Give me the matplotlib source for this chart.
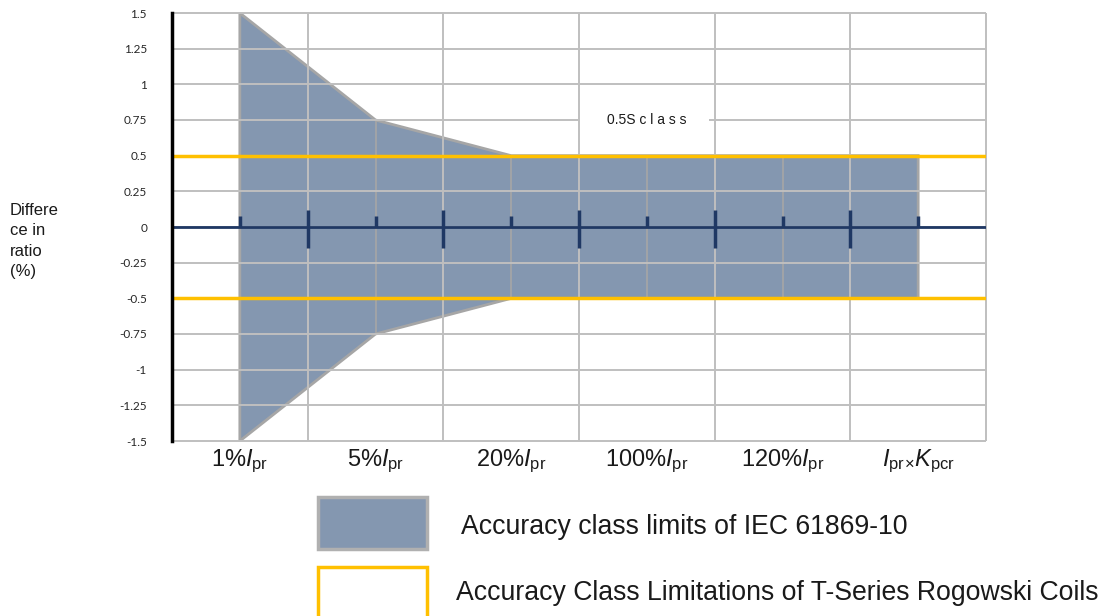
import matplotlib
matplotlib.use('Agg')
import matplotlib.pyplot as plt
from matplotlib.patches import Rectangle

plt.rcParams['font.family'] = ['Liberation Sans', 'DejaVu Sans']
plt.rcParams['mathtext.fontset'] = 'custom'
plt.rcParams['mathtext.rm'] = 'Liberation Sans'
plt.rcParams['mathtext.it'] = 'Liberation Sans:italic'

# Categories and limits
categories = [r'1%$\mathit{I}_{\mathrm{pr}}$', r'5%$\mathit{I}_{\mathrm{pr}}$',
              r'20%$\mathit{I}_{\mathrm{pr}}$', r'100%$\mathit{I}_{\mathrm{pr}}$',
              r'120%$\mathit{I}_{\mathrm{pr}}$',
              r'$\mathit{I}_{\mathrm{pr}}$$_{\times}$$\mathit{K}_{\mathrm{pcr}}$']
cat_pos = [1, 3, 5, 7, 9, 11]
iec_upper = [1.5, 0.75, 0.5, 0.5, 0.5, 0.5]
iec_lower = [-1.5, -0.75, -0.5, -0.5, -0.5, -0.5]
tseries_limit = 0.5

# measured error (zero) with error marks
minor_pos = [1, 3, 5, 7, 9, 11]
minor_up = [0.08, 0.08, 0.08, 0.08, 0.08, 0.08]
major_pos = [2, 4, 6, 8, 10]
major_up = [0.12, 0.12, 0.12, 0.12, 0.12]
major_down = [-0.15, -0.15, -0.15, -0.15, -0.15]

yticks = [-1.5, -1.25, -1, -0.75, -0.5, -0.25, 0, 0.25, 0.5, 0.75, 1, 1.25, 1.5]
ytick_labels = ['-1.5', '-1.25', '-1', '-0.75', '-0.5', '-0.25', '0',
                '0.25', '0.5', '0.75', '1', '1.25', '1.5']

fig = plt.figure(figsize=(11.08, 6.16), dpi=100)
ax = fig.add_axes([172/1108, 1-441/616, 814/1108, 428/616])
ax.set_xlim(0, 12)
ax.set_ylim(-1.5, 1.5)

grid_c = '#bfbfbf'
# IEC area
xs = cat_pos + cat_pos[::-1]
ys = iec_upper + iec_lower[::-1]
ax.fill(xs, ys, facecolor='#8497b0', edgecolor='#a6a6a6', lw=2, zorder=0.5)
# inner segment lines of the area
ax.vlines(cat_pos[1:-1], iec_lower[1:-1], iec_upper[1:-1], color='#a6a6a6', lw=1.2, zorder=0.6)

# gridlines
ax.hlines(yticks, 0, 12, color=grid_c, lw=1.4, zorder=1, clip_on=False)
ax.add_patch(Rectangle((6.0, 0.64), 1.92, 0.22, facecolor='white', edgecolor='none', zorder=1.5))
ax.text(7, 0.75, '0.5S c l a s s', fontsize=10, ha='center', va='center', zorder=1.55,
        color='#1a1a1a')
ax.vlines([2, 4, 6, 8, 10, 12], -1.5, 1.5, color=grid_c, lw=1.4, zorder=1.6, clip_on=False)

# T-series limits
ax.hlines([tseries_limit, -tseries_limit], 0, 12, color='#ffc000', lw=2.5, zorder=3)
# zero line and error marks
ax.hlines(0, 0, 12, color='#1f3864', lw=2, zorder=4)
ax.vlines(minor_pos, 0, minor_up, color='#1f3864', lw=2.5, zorder=4)
ax.vlines(major_pos, major_down, major_up, color='#1f3864', lw=2.5, zorder=4)

for s in ['top', 'right', 'bottom']:
    ax.spines[s].set_visible(False)
ax.spines['left'].set_linewidth(2.5)
ax.spines['left'].set_color('black')
ax.spines['left'].set_zorder(5)

ax.set_yticks(yticks)
ax.set_yticklabels(ytick_labels, fontsize=8.5, family=['Lato', 'DejaVu Sans'], color='#262626')
ax.set_xticks(cat_pos)
ax.set_xticklabels(categories, fontsize=17, color='#1a1a1a')
ax.tick_params(axis='y', length=0, pad=18)
ax.tick_params(axis='x', length=0, pad=5)

fig.text(10/1108, 1-241/616, 'Differe\nce in\nratio\n(%)', fontsize=12, ha='left',
         va='center', linespacing=1.45, color='#1a1a1a')

# legend
fig.patches.append(Rectangle((318/1108, 1-549/616), 109/1108, 52/616, transform=fig.transFigure,
                             facecolor='#8497b0', edgecolor='#b0b0b0', lw=2.5))
fig.patches.append(Rectangle((318/1108, -0.05), 109/1108, 1-567/616+0.05, transform=fig.transFigure,
                             facecolor='white', edgecolor='#ffc000', lw=2.5))
fig.text(461/1108, 1-527/616, 'Accuracy class limits of IEC 61869-10', fontsize=19.2,
         ha='left', va='center', color='#1a1a1a')
fig.text(456/1108, 1-593/616, 'Accuracy Class Limitations of T-Series Rogowski Coils',
         fontsize=19.2, ha='left', va='center', color='#1a1a1a')

fig.savefig('out.png', dpi=100)
